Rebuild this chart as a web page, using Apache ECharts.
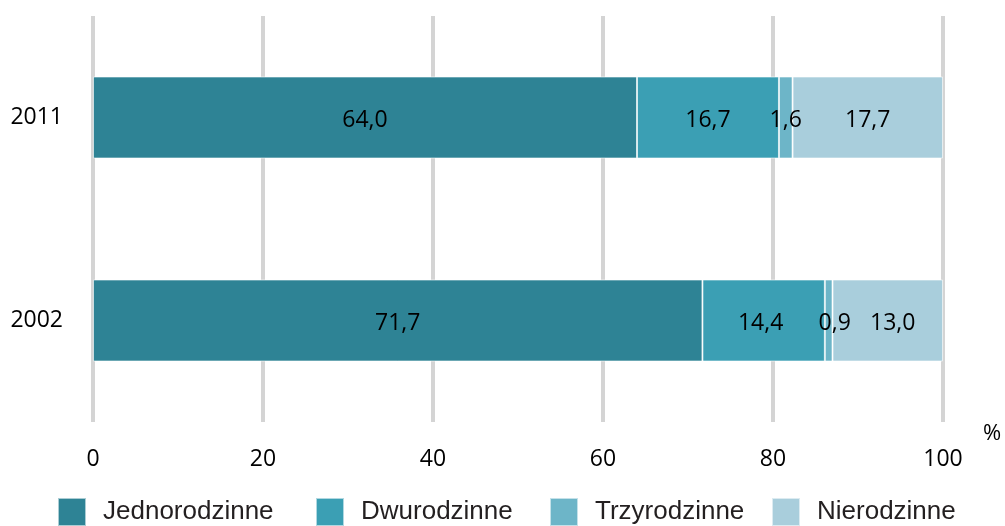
<!DOCTYPE html>
<html>
<head>
<meta charset="utf-8">
<script src="https://cdn.jsdelivr.net/npm/echarts@6/dist/echarts.min.js"></script>
<style>
html,body{margin:0;padding:0;background:#fff;}
#chart{width:1005px;height:526px;}
</style>
</head>
<body>
<div id="chart"></div>
<script>
const years = ['2011', '2002'];
const seriesNames = ['Jednorodzinne', 'Dwurodzinne', 'Trzyrodzinne', 'Nierodzinne'];
const jednorodzinne = [64.0, 71.7];
const dwurodzinne = [16.7, 14.4];
const trzyrodzinne = [1.6, 0.9];
const nierodzinne = [17.7, 13.0];
const xTicks = [0, 20, 40, 60, 80, 100];

const colors = ['#2e8395', '#3b9fb4', '#6db5c8', '#a9cedc'];
const valueSets = [jednorodzinne, dwurodzinne, trzyrodzinne, nierodzinne];
const labelFont = '"Open Sans", "Noto Sans", sans-serif';
const fmt = v => v.toFixed(1).replace('.', ',');
// small label nudges (style only) for the narrow 2002 segments
const labelOffsets = [
  [[0,3],[0,3]],
  [[0,3],[-3,3]],
  [[0,3],[6,3]],
  [[0,3],[5,3]]
];
const legendLefts = [57, 315, 549, 771];

const chart = echarts.init(document.getElementById('chart'), null, {renderer: 'canvas'});
const series = seriesNames.map((name, i) => ({
  name: name,
  type: 'bar',
  stack: 'total',
  barWidth: 82,
  itemStyle: {color: colors[i], borderColor: 'rgba(255,255,255,0.6)', borderWidth: 1},
  label: {
    show: true,
    position: 'inside',
    color: '#000',
    fontFamily: labelFont,
    fontSize: 23,
    formatter: p => fmt(p.value)
  },
  emphasis: {disabled: true},
  data: valueSets[i].map((v, j) => ({value: v, label: {offset: labelOffsets[i][j]}}))
}));

const legends = seriesNames.map((name, i) => ({
  data: [name],
  left: legendLefts[i],
  top: 497,
  padding: 0,
  itemWidth: 28,
  itemHeight: 28,
  icon: 'rect',
  textStyle: {
    color: '#231f20',
    fontFamily: '"Liberation Sans", Arial, sans-serif',
    fontSize: 26,
    padding: [0, 0, 0, 12]
  }
}));

chart.setOption({
  animation: false,
  backgroundColor: '#fff',
  grid: {left: 93, right: 62, top: 16, bottom: 104, containLabel: false},
  xAxis: {
    type: 'value',
    min: 0, max: 100, interval: 20,
    axisLine: {show: false},
    axisTick: {show: false},
    splitLine: {show: true, lineStyle: {color: '#d4d4d4', width: 4}},
    axisLabel: {
      color: '#000', fontFamily: labelFont, fontSize: 23, margin: 26,
      formatter: v => xTicks.includes(v) ? String(v) : ''
    }
  },
  yAxis: {
    type: 'category',
    data: years,
    inverse: true,
    axisLine: {show: false},
    axisTick: {show: false},
    axisLabel: {color: '#000', fontFamily: labelFont, fontSize: 23, margin: 30}
  },
  legend: legends,
  graphic: [{
    type: 'text',
    left: 983,
    top: 423,
    style: {text: '%', fill: '#000', font: '22px "Open Sans", sans-serif'}
  }],
  series: series
});
</script>
</body>
</html>
